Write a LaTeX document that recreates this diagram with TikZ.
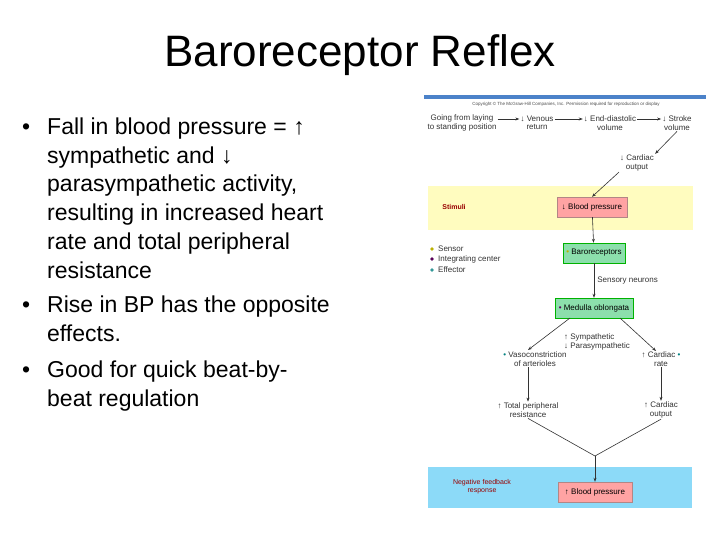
\documentclass[tikz,border=0pt]{standalone}
\usepackage{fontspec}
\setmainfont{Liberation Sans}
\usetikzlibrary{arrows.meta}
\begin{document}
\begin{tikzpicture}[x=1pt,y=-1pt,
  bl/.style={anchor=base west,font=\fontsize{23}{26}\selectfont,inner sep=0pt},
  sm/.style={font=\fontsize{8}{8.5}\selectfont,align=center,inner sep=1pt,text=black!80},
  box/.style={draw=#1!70!black,line width=0.4pt,minimum height=20pt,font=\fontsize{8}{8.5}\selectfont,inner sep=2pt},
  ar/.style={-{Stealth[length=4pt,width=3pt]},black!80,line width=0.6pt},
  dot/.style={circle,fill=#1,inner sep=1.4pt}]
\useasboundingbox (0,0) rectangle (720,540);
\fill[white] (0,0) rectangle (720,540);
\node[font=\fontsize{44}{48}\selectfont] (title) at (360,55) {Baroreceptor Reflex};
% bullets
\node[bl] (b1) at (22,135) {•};
\node[bl] (l1) at (47,135) {Fall in blood pressure = ↑};
\node[bl] (l2) at (47,164) {sympathetic and ↓};
\node[bl] (l3) at (47,192) {parasympathetic activity,};
\node[bl] (l4) at (47,221) {resulting in increased heart};
\node[bl] (l5) at (47,249) {rate and total peripheral};
\node[bl] (l6) at (47,278) {resistance};
\node[bl] (b2) at (22,312) {•};
\node[bl] (l7) at (47,312) {Rise in BP has the opposite};
\node[bl] (l8) at (47,341) {effects.};
\node[bl] (b3) at (22,377) {•};
\node[bl] (l9) at (47,377) {Good for quick beat-by-};
\node[bl] (l10) at (47,406) {beat regulation};
% diagram
\fill[teal!60!blue!70] (424,95) rectangle (706,99);
\node[font=\fontsize{4.5}{5}\selectfont,text=black!70] (copy) at (566,104) {Copyright © The McGraw-Hill Companies, Inc. Permission required for reproduction or display};
\fill[yellow!25] (428,186) rectangle (693,230);
\fill[cyan!45] (428,467) rectangle (692,508);
\node[sm] (go) at (462,123) {Going from laying\\to standing position};
\node[sm] (vr) at (537,123) {↓ Venous\\return};
\node[sm] (ed) at (610,123) {↓ End-diastolic\\volume};
\node[sm] (sv) at (677,123) {↓ Stroke\\volume};
\node[sm] (co) at (637,163) {↓ Cardiac\\output};
\draw[ar] (go.east|-0,119) -- (vr.west|-0,119);
\draw[ar] (vr.east|-0,119) -- (ed.west|-0,119);
\draw[ar] (ed.east|-0,119) -- (sv.west|-0,119);
\draw[ar] (sv.south) -- (co.north east);
\node[font=\fontsize{7}{8}\selectfont\bfseries,text=red!60!black] (stim) at (454,207) {Stimuli};
\node[box=pink,fill=pink!80!red!90,minimum width=70pt] (bp1) at (592,207) {↓ Blood pressure};
\draw[ar] (co.south west) -- (bp1.north);
\node[dot=olive!60!yellow] (d1) at (432,249) {};
\node[sm,anchor=west] (ls) at (437,249) {Sensor};
\node[dot=violet!70!black] (d2) at (432,259) {};
\node[sm,anchor=west] (li) at (437,259) {Integrating center};
\node[dot=teal!80] (d3) at (432,270) {};
\node[sm,anchor=west] (le) at (437,270) {Effector};
\node[box=green,fill=green!45!teal!45,minimum width=62pt] (baro) at (594,253) {\textcolor{olive!60!yellow}{\textbullet} Baroreceptors};
\draw[ar] (bp1) -- (baro);
\node[box=green,fill=green!45!teal!45,minimum width=78pt] (med) at (594,308) {\textcolor{violet!70!black}{\textbullet} Medulla oblongata};
\draw[ar] (baro) -- (med) node[midway,sm,anchor=west,xshift=2pt] (sn) {Sensory neurons};
\node[sm,align=left] (sym) at (597,342) {↑ Sympathetic\\↓ Parasympathetic};
\node[sm] (vaso) at (535,359) {\textcolor{teal}{\textbullet} Vasoconstriction\\of arterioles};
\node[sm] (cr) at (661,359) {↑ Cardiac \textcolor{teal}{\textbullet}\\rate};
\coordinate (vt) at (528,350);
\coordinate (ct) at (656,351);
\draw[ar] (570,318) -- (vt);
\draw[ar] (620,318) -- (ct);
\node[sm] (tpr) at (528,410) {↑ Total peripheral\\resistance};
\node[sm] (co2) at (661,410) {↑ Cardiac\\output};
\draw[ar] (tpr.north|-vaso.south) -- (tpr.north);
\draw[ar] (co2.north|-cr.south) -- (co2.north);
\node[font=\fontsize{7}{8}\selectfont,align=center,text=red!60!black] (nf) at (482,487) {Negative feedback\\response};
\node[box=pink,fill=pink!80!red!90,minimum width=74pt] (bp2) at (595,492) {↑ Blood pressure};
\coordinate (j) at (595,456);
\draw[black!80,line width=0.6pt] (tpr.south) -- (j) -- (co2.south);
\draw[ar] (j) -- (bp2.north);
\end{tikzpicture}
\end{document}
